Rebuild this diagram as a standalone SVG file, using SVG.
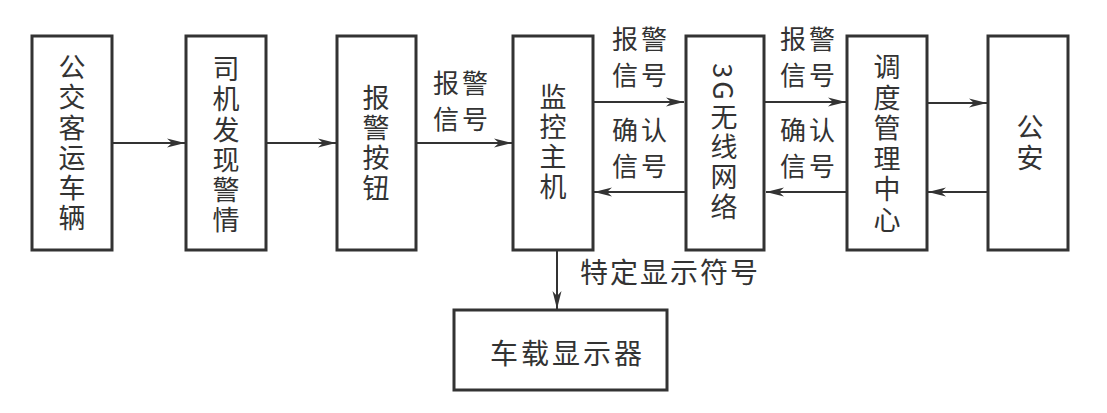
<svg xmlns="http://www.w3.org/2000/svg" width="1107" height="413" viewBox="0 0 1107 413">
<style>
.box{fill:#fff;stroke:#333;stroke-width:3}
.v{font-family:"Noto Sans CJK SC","Liberation Sans",sans-serif;font-size:27px;fill:#333;text-anchor:middle;writing-mode:vertical-rl;text-orientation:mixed}
.lb{font-family:"Noto Sans CJK SC","Liberation Sans",sans-serif;font-size:26px;fill:#333;letter-spacing:3px}
.c{stroke:#333;stroke-width:2;fill:none;marker-end:url(#ah)}
</style>
<defs>
<marker id="ah" markerUnits="userSpaceOnUse" markerWidth="20" markerHeight="12" viewBox="-19 -6 20 12" refX="0" refY="0" orient="auto">
<path d="M0,0 L-18,-4.5 L-13,0 L-18,4.5 Z" fill="#333"/>
</marker>
</defs>
<rect width="1107" height="413" fill="#fff"/>
<g id="connectors">
<line class="c" x1="112" y1="143" x2="185" y2="143"/>
<line class="c" x1="266" y1="143" x2="336" y2="143"/>
<line class="c" x1="416" y1="143" x2="512" y2="143"/>
<line class="c" x1="593" y1="102" x2="684" y2="102"/>
<line class="c" x1="685" y1="192" x2="594" y2="192"/>
<line class="c" x1="765" y1="102" x2="846" y2="102"/>
<line class="c" x1="847" y1="192" x2="766" y2="192"/>
<line class="c" x1="927" y1="103" x2="987" y2="103"/>
<line class="c" x1="988" y1="192" x2="928" y2="192"/>
<line class="c" x1="557" y1="250" x2="557" y2="309"/>
<text class="lb" x="433" y="93">报警</text>
<text class="lb" x="433" y="129">信号</text>
<text class="lb" x="612" y="49">报警</text>
<text class="lb" x="612" y="85">信号</text>
<text class="lb" x="612" y="140">确认</text>
<text class="lb" x="612" y="176">信号</text>
<text class="lb" x="780" y="49">报警</text>
<text class="lb" x="780" y="85">信号</text>
<text class="lb" x="780" y="140">确认</text>
<text class="lb" x="780" y="176">信号</text>
<text class="lb" x="580" y="283" style="font-size:28px;letter-spacing:2px">特定显示符号</text>
</g>
<g id="n1">
<rect class="box" x="32" y="36" width="80" height="214"/>
<text class="v" x="72" y="144" style="letter-spacing:3.2px">公交客运车辆</text>
</g>
<g id="n2">
<rect class="box" x="186" y="36" width="80" height="214"/>
<text class="v" x="226" y="146" style="letter-spacing:3.2px">司机发现警情</text>
</g>
<g id="n3">
<rect class="box" x="337" y="36" width="79" height="214"/>
<text class="v" x="376" y="144" style="letter-spacing:3px">报警按钮</text>
</g>
<g id="n4">
<rect class="box" x="513" y="36" width="80" height="214"/>
<text class="v" x="553" y="143" style="letter-spacing:3px">监控主机</text>
</g>
<g id="n5">
<rect class="box" x="686" y="36" width="78" height="214"/>
<text class="v" x="724" y="143" style="letter-spacing:3px">3G无线网络</text>
</g>
<g id="n6">
<rect class="box" x="847" y="36" width="80" height="214"/>
<text class="v" x="887" y="145" style="letter-spacing:3.6px">调度管理中心</text>
</g>
<g id="n7">
<rect class="box" x="988" y="36" width="80" height="214"/>
<text class="v" x="1030" y="144" style="letter-spacing:4px">公安</text>
</g>
<g id="n8">
<rect class="box" x="454" y="310" width="213" height="80"/>
<text class="lb" x="490" y="364" style="font-size:28px;letter-spacing:3px">车载显示器</text>
</g>
</svg>
